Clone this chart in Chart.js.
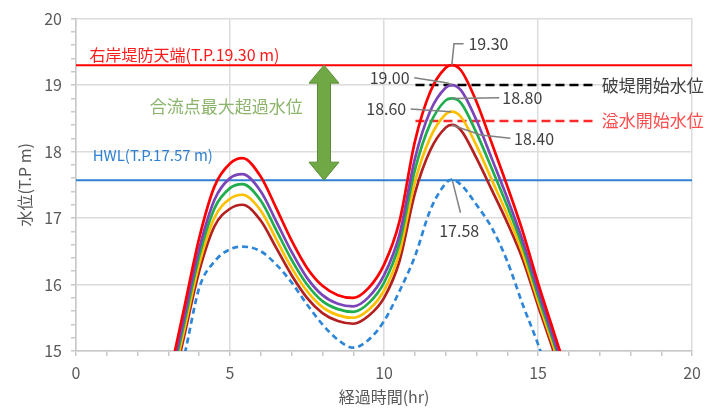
<!DOCTYPE html>
<html>
<head>
<meta charset="utf-8">
<script src="https://cdn.jsdelivr.net/npm/chart.js@4/dist/chart.umd.min.js"></script>
<style>
  html, body { margin: 0; padding: 0; background: #fff; }
  #wrap { width: 708px; height: 408px; }
</style>
</head>
<body>
<div id="wrap"><canvas id="levelChart" width="708" height="408"></canvas></div>
<script>
// elapsed hours (x) and water levels (T.P m)
const hours = [3, 3.5, 4, 4.5, 5, 5.4, 6, 6.5, 7, 7.5, 8, 8.5, 9, 9.5, 10, 10.5, 11, 11.5, 12, 12.2, 12.5, 13, 13.5, 14, 14.5, 15, 15.5, 16];

const level1930 = [14.55, 15.62, 16.70, 17.48, 17.82, 17.90, 17.62, 17.15, 16.66, 16.25, 15.98, 15.84, 15.80, 15.95, 16.30, 16.95, 18.15, 18.90, 19.26, 19.30, 19.22, 18.75, 18.12, 17.48, 16.80, 16.02, 15.30, 14.58];
const level1900 = [14.43, 15.48, 16.54, 17.28, 17.60, 17.66, 17.40, 16.95, 16.49, 16.10, 15.84, 15.71, 15.67, 15.81, 16.14, 16.75, 17.89, 18.61, 18.96, 19.00, 18.92, 18.47, 17.89, 17.30, 16.66, 15.91, 15.20, 14.49];
const level1880 = [14.36, 15.39, 16.43, 17.15, 17.45, 17.51, 17.26, 16.82, 16.37, 16.00, 15.75, 15.63, 15.59, 15.72, 16.03, 16.62, 17.72, 18.42, 18.77, 18.80, 18.73, 18.28, 17.74, 17.18, 16.57, 15.83, 15.14, 14.43];
const level1860 = [14.28, 15.29, 16.31, 17.01, 17.29, 17.35, 17.11, 16.68, 16.25, 15.90, 15.66, 15.54, 15.50, 15.62, 15.91, 16.48, 17.54, 18.21, 18.56, 18.60, 18.52, 18.09, 17.57, 17.05, 16.47, 15.75, 15.07, 14.36];
const level1840 = [14.20, 15.20, 16.20, 16.88, 17.14, 17.20, 16.96, 16.55, 16.14, 15.80, 15.57, 15.45, 15.41, 15.53, 15.80, 16.35, 17.37, 18.02, 18.36, 18.40, 18.32, 17.90, 17.42, 16.93, 16.38, 15.68, 15.00, 14.30];
const level1758 = [14.10, 14.90, 15.95, 16.35, 16.53, 16.57, 16.50, 16.30, 16.03, 15.70, 15.40, 15.17, 15.05, 15.17, 15.45, 15.90, 16.42, 17.12, 17.52, 17.58, 17.50, 17.20, 16.85, 16.35, 15.70, 15.10, 14.40, 13.70];

const peakLabels = ['19.30', '19.00', '18.80', '18.60', '18.40', '17.58'];

// reference levels
const crestLevel = 19.30;   // 右岸堤防天端
const hwlLevel = 17.57;     // HWL
const breachLevel = 19.00;  // 破堤開始水位
const overflowLevel = 18.46; // 溢水開始水位
const thresholdHours = [11.02, 16.85];

const xTicks = { min: 0, max: 20, step: 1 };
const yTicks = { min: 15, max: 20, step: 0.2 };

const FONT = "'Noto Sans CJK JP', 'Noto Sans', sans-serif";

function pts(ys) {
    return hours.map((h, i) => ({ x: h, y: ys[i] }));
}
function flat(x0, x1, y) {
    return [{ x: x0, y: y }, { x: x1, y: y }];
}

const curveStyle = {
    borderWidth: 2.7,
    pointRadius: 0,
    fill: false,
    cubicInterpolationMode: 'monotone',
    order: 1
};

const datasets = [
    Object.assign({ label: '19.30', data: pts(level1930), borderColor: '#ff0000' }, curveStyle),
    Object.assign({ label: '19.00', data: pts(level1900), borderColor: '#7b44b8' }, curveStyle),
    Object.assign({ label: '18.80', data: pts(level1880), borderColor: '#20ad4e' }, curveStyle),
    Object.assign({ label: '18.60', data: pts(level1860), borderColor: '#ffc000' }, curveStyle),
    Object.assign({ label: '18.40', data: pts(level1840), borderColor: '#b3201f' }, curveStyle),
    Object.assign({ label: '17.58', data: pts(level1758), borderColor: '#2e86d9', borderDash: [6, 4] }, curveStyle),
    { label: 'crest', data: flat(xTicks.min, xTicks.max, crestLevel), borderColor: '#ff0000', borderWidth: 2, pointRadius: 0, order: 2 },
    { label: 'hwl', data: flat(xTicks.min, xTicks.max, hwlLevel), borderColor: '#2f80d0', borderWidth: 2, pointRadius: 0, order: 2 },
    { label: 'breach', data: flat(thresholdHours[0], thresholdHours[1], breachLevel), borderColor: '#000000', borderWidth: 2.5, borderDash: [9, 5], pointRadius: 0, order: 2 },
    { label: 'overflow', data: flat(thresholdHours[0], thresholdHours[1], overflowLevel), borderColor: '#ff2a2a', borderWidth: 2.5, borderDash: [9, 5], pointRadius: 0, order: 2 }
];

function isWhole(v) {
    return Math.abs(v - Math.round(v)) < 1e-6;
}

// text, arrow and leader lines placed in data units
const notes = {
    id: 'notes',
    afterDatasetsDraw(chart) {
        const c = chart.ctx;
        const xs = chart.scales.x, ys = chart.scales.y;
        const X = v => xs.getPixelForValue(v);
        const Y = v => ys.getPixelForValue(v);

        c.save();
        function text(str, x, y, color, size, align) {
            c.font = size + 'px ' + FONT;
            c.fillStyle = color;
            c.textAlign = align || 'left';
            c.textBaseline = 'middle';
            c.fillText(str, X(x), Y(y));
        }
        function leader(list) {
            c.strokeStyle = '#808080';
            c.lineWidth = 1.5;
            c.beginPath();
            list.forEach((p, i) => i ? c.lineTo(X(p[0]), Y(p[1])) : c.moveTo(X(p[0]), Y(p[1])));
            c.stroke();
        }

        text('右岸堤防天端(T.P.19.30 m)', 0.44, 19.455, '#ff1a1a', 16);
        text('HWL(T.P.17.57 m)', 0.54, 17.94, '#2f80d0', 15);
        text('合流点最大超過水位', 4.88, 18.67, '#8ab46a', 17, 'center');
        text('破堤開始水位', 17.07, breachLevel, '#404040', 17);
        text('溢水開始水位', 17.07, overflowLevel, '#ff4d4d', 17);

        // peak value callouts
        leader([[12.2, 19.30], [12.27, 19.62], [12.58, 19.62]]);
        text(peakLabels[0], 12.74, 19.62, '#404040', 16);
        leader([[10.98, 19.11], [12.07, 19.03], [12.2, 19.00]]);
        text(peakLabels[1], 10.83, 19.11, '#404040', 16, 'right');
        leader([[12.2, 18.80], [13.74, 18.81]]);
        text(peakLabels[2], 13.84, 18.81, '#404040', 16);
        leader([[10.86, 18.64], [12.17, 18.60]]);
        text(peakLabels[3], 10.72, 18.64, '#404040', 16, 'right');
        leader([[12.2, 18.40], [13.14, 18.25], [14.1, 18.2]]);
        text(peakLabels[4], 14.22, 18.19, '#404040', 16);
        leader([[12.22, 17.56], [12.48, 17.08]]);
        text(peakLabels[5], 12.44, 16.80, '#404040', 16, 'center');

        // double arrow between crest and HWL
        const ax = X(8.05), top = Y(crestLevel), bot = Y(hwlLevel);
        const hw = 15, hh = 18, sw = 6.5;
        c.beginPath();
        c.moveTo(ax, top);
        c.lineTo(ax + hw, top + hh);
        c.lineTo(ax + sw, top + hh);
        c.lineTo(ax + sw, bot - hh);
        c.lineTo(ax + hw, bot - hh);
        c.lineTo(ax, bot);
        c.lineTo(ax - hw, bot - hh);
        c.lineTo(ax - sw, bot - hh);
        c.lineTo(ax - sw, top + hh);
        c.lineTo(ax - hw, top + hh);
        c.closePath();
        c.fillStyle = '#70a845';
        c.fill();
        c.strokeStyle = '#5a8c36';
        c.lineWidth = 1;
        c.stroke();
        c.restore();
    }
};

new Chart(document.getElementById('levelChart'), {
    type: 'line',
    data: { datasets: datasets },
    options: {
        responsive: false,
        animation: false,
        layout: { padding: { left: 0, right: 11, top: 16, bottom: 0 } },
        plugins: {
            legend: { display: false },
            tooltip: { enabled: false }
        },
        scales: {
            x: {
                type: 'linear',
                min: xTicks.min,
                max: xTicks.max,
                afterFit: s => { s.height = 57; },
                ticks: {
                    stepSize: xTicks.step,
                    autoSkip: false,
                    maxRotation: 0,
                    padding: 7,
                    color: '#595959',
                    font: { family: FONT, size: 16 },
                    callback: v => (v % 5 === 0 ? v : '')
                },
                grid: {
                    color: ctx => (ctx.tick && ctx.tick.value % 5 === 0 ? '#dcdcdc' : 'rgba(0,0,0,0)'),
                    tickColor: '#c8c8c8',
                    tickLength: 5,
                    lineWidth: 1.5
                },
                border: { color: '#c8c8c8', width: 1.5 },
                title: {
                    display: true,
                    text: '経過時間(hr)',
                    color: '#595959',
                    font: { family: FONT, size: 16 },
                    padding: { top: 0, bottom: 1 }
                }
            },
            y: {
                min: yTicks.min,
                max: yTicks.max,
                afterFit: s => { s.width = 76; },
                ticks: {
                    stepSize: yTicks.step,
                    autoSkip: false,
                    padding: 9,
                    color: '#595959',
                    font: { family: FONT, size: 16 },
                    callback: v => (isWhole(v) ? Math.round(v) : '')
                },
                grid: {
                    color: ctx => (ctx.tick && isWhole(ctx.tick.value) ? '#dcdcdc' : 'rgba(0,0,0,0)'),
                    tickColor: '#c8c8c8',
                    tickLength: 5,
                    lineWidth: 1.5
                },
                border: { color: '#c8c8c8', width: 1.5 },
                title: {
                    display: true,
                    text: '水位(T.P m)',
                    color: '#595959',
                    font: { family: FONT, size: 16 },
                    padding: { top: 15, bottom: 0 }
                }
            }
        }
    },
    plugins: [notes]
});
</script>
</body>
</html>
